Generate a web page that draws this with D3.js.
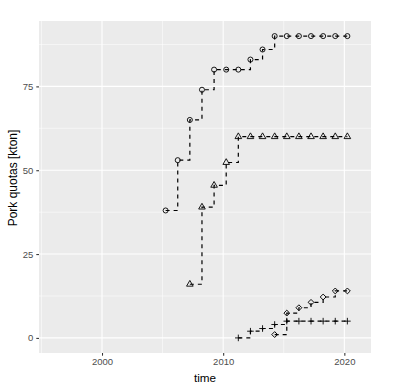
<!DOCTYPE html>
<html>
<head>
<meta charset="utf-8">
<script src="https://cdn.jsdelivr.net/npm/d3@7"></script>
<style>
  body { margin: 0; background: #fff; }
  svg { display: block; font-family: "Liberation Sans", Arial, sans-serif; }
  .grid-major { stroke: #fff; stroke-width: 1.07; }
  .grid-minor { stroke: #fff; stroke-width: 0.53; }
  .axis text { fill: #4d4d4d; font-size: 9.5px; }
  .axis line { stroke: #333; stroke-width: 1.07; }
  .quota-line { fill: none; stroke: #000; stroke-width: 1.2; stroke-dasharray: 4,4; }
  .quota-point { fill: none; stroke: #000; stroke-width: 0.9; }
</style>
</head>
<body>
<svg id="chart" width="399" height="389"></svg>
<script>
// quotas are set each year, taking effect about April 1st
var dateOffset = 0.25;

var circleYears   = [2005, 2006, 2007, 2008, 2009, 2010, 2011, 2012, 2013, 2014, 2015, 2016, 2017, 2018, 2019, 2020];
var circleValues  = [38, 53, 65, 74, 80, 80, 80, 83, 86, 90, 90, 90, 90, 90, 90, 90];

var triangleYears  = [2007, 2008, 2009, 2010, 2011, 2012, 2013, 2014, 2015, 2016, 2017, 2018, 2019, 2020];
var triangleValues = [16, 39, 45.5, 52.3, 60, 60, 60, 60, 60, 60, 60, 60, 60, 60];

var diamondYears  = [2014, 2015, 2016, 2017, 2018, 2019, 2020];
var diamondValues = [1, 7.4, 9, 10.6, 12.2, 14, 14];

var plusYears  = [2011, 2012, 2013, 2014, 2015, 2016, 2017, 2018, 2019, 2020];
var plusValues = [0, 2, 2.8, 4, 5, 5, 5, 5, 5, 5];

var xTicks      = [2000, 2010, 2020];
var xMinorTicks = [1995, 2005, 2015];
var yTicks      = [0, 25, 50, 75];
var yMinorTicks = [12.5, 37.5, 62.5, 87.5];

var margin = { top: 21, right: 28, bottom: 36, left: 39 };
var width  = 399 - margin.left - margin.right;
var height = 389 - margin.top - margin.bottom;

function _series(years, values, symbol) {
  return {
    symbol: symbol,
    points: years.map(function(y, i) { return { x: y + dateOffset, y: values[i] }; })
  };
}

var series = [
  _series(circleYears,   circleValues,   'circle'),
  _series(triangleYears, triangleValues, 'triangle'),
  _series(diamondYears,  diamondValues,  'diamond'),
  _series(plusYears,     plusValues,     'plus')
];

var x = d3.scaleLinear().domain([1994.8, 2022.2]).range([0, width]);
var y = d3.scaleLinear().domain([-4.5, 94.5]).range([height, 0]);

var svg = d3.select("#chart");
var g = svg.append("g").attr("transform", "translate(" + margin.left + "," + margin.top + ")");

g.append("rect")
  .attr("width", width)
  .attr("height", height)
  .attr("fill", "#ebebeb");

g.selectAll("line.gx-minor").data(xMinorTicks).enter().append("line")
  .attr("class", "grid-minor")
  .attr("x1", x).attr("x2", x)
  .attr("y1", 0).attr("y2", height);
g.selectAll("line.gy-minor").data(yMinorTicks).enter().append("line")
  .attr("class", "grid-minor")
  .attr("y1", y).attr("y2", y)
  .attr("x1", 0).attr("x2", width);
g.selectAll("line.gx-major").data(xTicks).enter().append("line")
  .attr("class", "grid-major")
  .attr("x1", x).attr("x2", x)
  .attr("y1", 0).attr("y2", height);
g.selectAll("line.gy-major").data(yTicks).enter().append("line")
  .attr("class", "grid-major")
  .attr("y1", y).attr("y2", y)
  .attr("x1", 0).attr("x2", width);

var xAxis = d3.axisBottom(x).tickValues(xTicks).tickFormat(d3.format("d")).tickSize(2.7).tickPadding(3);
var yAxis = d3.axisLeft(y).tickValues(yTicks).tickSize(2.7).tickPadding(3);

g.append("g")
  .attr("class", "x axis")
  .attr("transform", "translate(0," + height + ")")
  .call(xAxis)
  .call(function(s) { s.select(".domain").remove(); });

g.append("g")
  .attr("class", "y axis")
  .call(yAxis)
  .call(function(s) { s.select(".domain").remove(); });

var line = d3.line()
  .curve(d3.curveStepAfter)
  .x(function(d) { return x(d.x); })
  .y(function(d) { return y(d.y); });

g.selectAll("path.quota-line").data(series).enter().append("path")
  .attr("class", "quota-line")
  .attr("d", function(d) { return line(d.points); });

var _symbols = {
  circle:   d3.symbol().type(d3.symbolCircle).size(20),
  triangle: d3.symbol().type(d3.symbolTriangle).size(19),
  diamond:  d3.symbol().type(d3.symbolSquare).size(17)
};

series.forEach(function(s) {
  var pts = g.append("g").selectAll("path").data(s.points).enter().append("path")
    .attr("class", "quota-point");
  if (s.symbol === 'plus') {
    pts.attr("d", "M-3.3,0H3.3M0,-3.3V3.3")
      .attr("transform", function(d) { return "translate(" + x(d.x) + "," + y(d.y) + ")"; });
  } else if (s.symbol === 'diamond') {
    pts.attr("d", _symbols.diamond())
      .attr("transform", function(d) { return "translate(" + x(d.x) + "," + y(d.y) + ") rotate(45)"; });
  } else {
    pts.attr("d", _symbols[s.symbol]())
      .attr("transform", function(d) { return "translate(" + x(d.x) + "," + y(d.y) + ")"; });
  }
});

svg.append("text")
  .attr("x", margin.left + width / 2)
  .attr("y", 382)
  .attr("text-anchor", "middle")
  .style("font-size", "11.7px")
  .style("fill", "#000")
  .text("time");

svg.append("text")
  .attr("transform", "translate(17,178) rotate(-90)")
  .attr("text-anchor", "middle")
  .style("font-size", "12px")
  .style("fill", "#000")
  .text("Pork quotas [kton]");
</script>
</body>
</html>
